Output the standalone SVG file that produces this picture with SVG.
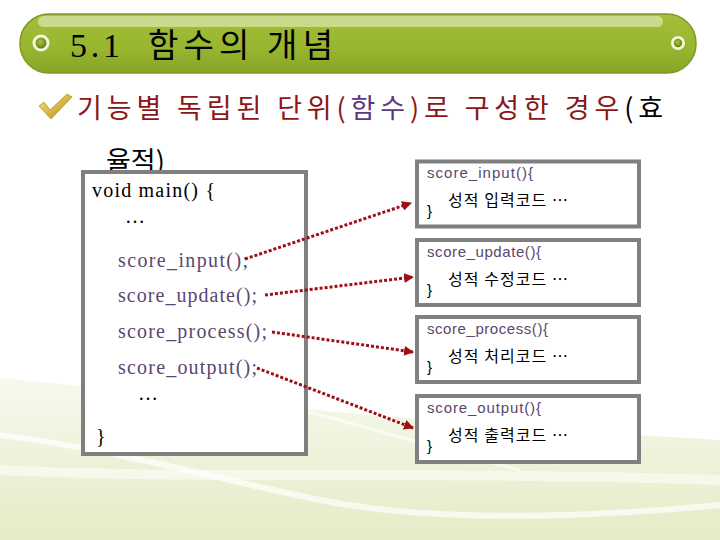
<svg xmlns="http://www.w3.org/2000/svg" width="720" height="540" viewBox="0 0 720 540">
<defs>
<linearGradient id="bar" x1="0" y1="0" x2="0" y2="1">
<stop offset="0" stop-color="#a4bf3a"/>
<stop offset="0.6" stop-color="#97b52e"/>
<stop offset="1" stop-color="#86a526"/>
</linearGradient>
<linearGradient id="bg" x1="0" y1="0" x2="0" y2="1">
<stop offset="0" stop-color="#f6f9ee"/>
<stop offset="1" stop-color="#e4ecc6"/>
</linearGradient>
<linearGradient id="chk" x1="0" y1="0" x2="1" y2="1">
<stop offset="0" stop-color="#f8e27a"/>
<stop offset="1" stop-color="#b88e16"/>
</linearGradient>
<radialGradient id="dot" cx="0.45" cy="0.4" r="0.6">
<stop offset="0" stop-color="#a8c83a"/>
<stop offset="1" stop-color="#5e7d10"/>
</radialGradient>
<marker id="ah" viewBox="0 0 10 10" refX="9" refY="5" markerWidth="10" markerHeight="10" markerUnits="userSpaceOnUse" orient="auto">
<path d="M0,0 L10,5 L0,10 Z" fill="#a00f14"/>
</marker>
</defs>
<style>
.box{fill:#ffffff;stroke:#7f7f7f;stroke-width:4}
.code{font-family:"Liberation Serif","Noto Sans CJK KR",serif;font-size:20px;fill:#000}
.call{font-family:"Liberation Serif","Noto Sans CJK KR",serif;font-size:20px;fill:#5a4770}
.fn{font-family:"Liberation Sans","Noto Sans CJK KR",sans-serif;font-size:15px;fill:#5a4770}
.ko{font-family:"Noto Sans CJK KR",sans-serif;font-size:16px;fill:#000}
.br{font-family:"Liberation Sans",sans-serif;font-size:15px;fill:#000}
.arr{fill:none;stroke:#a00f14;stroke-width:3;stroke-dasharray:3 2;marker-end:url(#ah)}
</style>
<rect width="720" height="540" fill="#ffffff"/>
<g id="background">
<path d="M0,378 C180,395 360,420 720,440 L720,540 L0,540 Z" fill="url(#bg)"/>
<path d="M0,435 C120,450 220,480 320,500 C420,520 560,520 720,505" fill="none" stroke="#ffffff" stroke-width="6" opacity="0.7"/>
<path d="M0,470 C200,480 400,470 720,480" fill="none" stroke="#ffffff" stroke-width="10" opacity="0.5"/>
<path d="M300,410 C380,430 440,450 520,470" fill="none" stroke="#ffffff" stroke-width="3" opacity="0.6"/>
</g>
<g id="title">
<rect x="20" y="14" width="676" height="59" rx="29" ry="29" fill="url(#bar)" stroke="#7d9a22" stroke-width="1.5"/>
<rect x="38" y="16" width="625" height="11" rx="5.5" fill="#d8e4a8" opacity="0.75"/>
<circle cx="41" cy="43" r="8.5" fill="#f4f7dc"/>
<circle cx="41" cy="43" r="5.5" fill="url(#dot)"/>
<circle cx="678" cy="43" r="7" fill="#f4f7dc"/>
<circle cx="678" cy="43" r="4.2" fill="url(#dot)"/>
<text y="57" font-family="Liberation Serif, Noto Sans CJK KR, serif" font-size="34" fill="#000"><tspan x="70" textLength="50">5.1</tspan><tspan x="148" font-family="Noto Sans CJK KR, sans-serif" font-size="33" textLength="185">함수의 개념</tspan></text>
</g>
<g id="subtitle">
<path d="M39,106 L44,102 L50,110 L67,94 L72,97 L51,119 Z" fill="url(#chk)" stroke="#a07c10" stroke-width="0.6"/>
<text x="77" y="118" font-family="Noto Sans CJK KR, sans-serif" font-size="27" textLength="586" lengthAdjust="spacing"><tspan fill="#8b1616">기능별 독립된 단위(</tspan><tspan fill="#5a3a7e">함수</tspan><tspan fill="#8b1616">)로 구성한 경우</tspan><tspan fill="#000">(효</tspan></text>
<text x="106" y="171" font-family="Noto Sans CJK KR, sans-serif" font-size="27" fill="#000">율적)</text>
</g>
<g id="main">
<rect class="box" x="83" y="172" width="223" height="282"/>
<text class="code" x="92" y="197" textLength="123">void main() {</text>
<text class="code" x="125" y="223">…</text>
<text class="call" x="118" y="267" textLength="130">score_input();</text>
<text class="call" x="118" y="302" textLength="139">score_update();</text>
<text class="call" x="118" y="338" textLength="149">score_process();</text>
<text class="call" x="118" y="374" textLength="139">score_output();</text>
<text class="code" x="138" y="400">…</text>
<text class="code" x="96" y="443">}</text>
</g>
<g id="input">
<rect class="box" x="417" y="161.5" width="222" height="65"/>
<text class="fn" x="427" y="178" textLength="106">score_input(){</text>
<text class="ko" x="448" y="206" textLength="120">성적 입력코드 …</text>
<text class="br" x="427" y="216">}</text>
</g>
<g id="update">
<rect class="box" x="417" y="240" width="222" height="65"/>
<text class="fn" x="427" y="257" textLength="114">score_update(){</text>
<text class="ko" x="448" y="285" textLength="120">성적 수정코드 …</text>
<text class="br" x="427" y="295">}</text>
</g>
<g id="process">
<rect class="box" x="417" y="317" width="222" height="65"/>
<text class="fn" x="427" y="334" textLength="121">score_process(){</text>
<text class="ko" x="448" y="362" textLength="120">성적 처리코드 …</text>
<text class="br" x="427" y="372">}</text>
</g>
<g id="output">
<rect class="box" x="417" y="396" width="222" height="66"/>
<text class="fn" x="427" y="413" textLength="114">score_output(){</text>
<text class="ko" x="448" y="441" textLength="120">성적 출력코드 …</text>
<text class="br" x="427" y="451">}</text>
</g>
<g id="connectors">
<path class="arr" d="M245,259 L411,203"/>
<path class="arr" d="M265,295 L413,277"/>
<path class="arr" d="M272,332 L413,352"/>
<path class="arr" d="M257,368 L413,428"/>
</g>
</svg>
